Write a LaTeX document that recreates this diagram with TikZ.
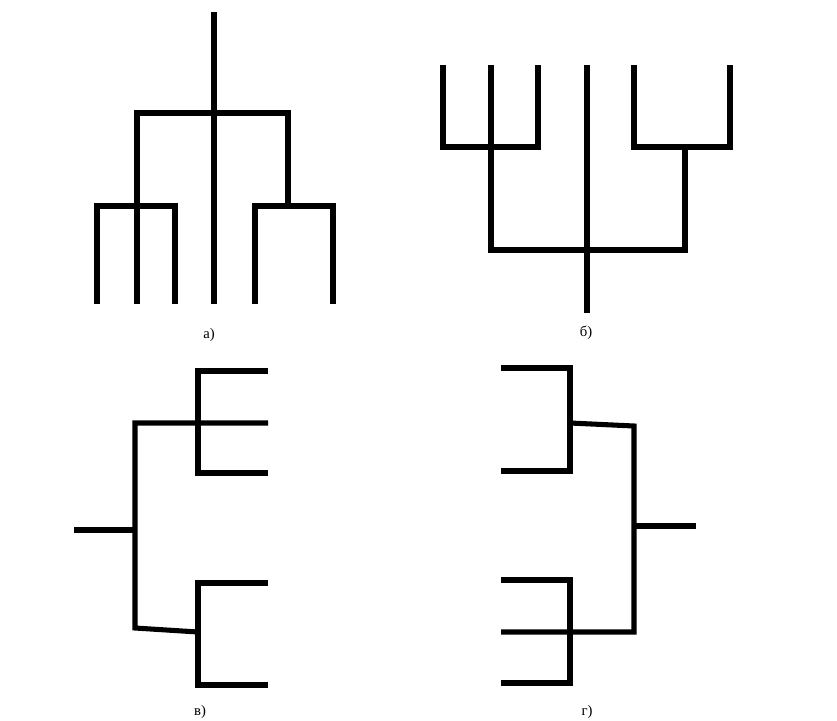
\documentclass[tikz,border=0pt]{standalone}
\usepackage{fontspec}
\setmainfont{Liberation Serif}
\begin{document}
\begin{tikzpicture}[
    x=0.75pt, y=-0.75pt,
    branch/.style={line width=3.8pt, black},
    caption/.style={font=\fontsize{11}{13}\selectfont, inner sep=0pt}
  ]
  \useasboundingbox (0,0) rectangle (837,720);
  % а) tree growing up
  \coordinate (atop) at (214,12);
  \coordinate (al1) at (97,304);
  \coordinate (al2) at (137,304);
  \coordinate (al3) at (175,304);
  \coordinate (al4) at (214,304);
  \coordinate (ar1) at (255,304);
  \coordinate (ar2) at (333,304);
  \coordinate (aL) at (137,206);
  \coordinate (aR) at (288,206);
  \coordinate (aJ) at (137,113);
  \coordinate (aK) at (288,113);
  \draw[branch] (atop) -- (al4);
  \draw[branch] (al2) -- (aJ) -- (aK) -- (aR);
  \draw[branch] (al1) |- (aL) -| (al3);
  \draw[branch] (ar1) |- (aR) -| (ar2);
  \node[caption] (capa) at (209,335) {а)};
  % б) tree growing down
  \coordinate (bl1) at (443,65);
  \coordinate (bl2) at (491,65);
  \coordinate (bl3) at (538,65);
  \coordinate (bc) at (587,65);
  \coordinate (br1) at (634,65);
  \coordinate (br2) at (730,65);
  \coordinate (bL) at (491,147);
  \coordinate (bR) at (685,147);
  \coordinate (bM) at (587,250);
  \coordinate (bbase) at (587,313);
  \draw[branch] (bl1) |- (bL) -| (bl3);
  \draw[branch] (br1) |- (bR) -| (br2);
  \draw[branch] (bl2) |- (bM) -| (bR);
  \draw[branch] (bc) -- (bbase);
  \node[caption] (capb) at (586,333) {б)};
  % в) tree growing right
  \coordinate (vroot) at (74,530);
  \coordinate (vJ) at (135,530);
  \coordinate (vlow) at (135,628);
  \coordinate (vT) at (198,423);
  \coordinate (vB) at (198,632);
  \coordinate (vt1) at (268,371);
  \coordinate (vt2) at (268,423);
  \coordinate (vt3) at (268,473);
  \coordinate (vb1) at (268,583);
  \coordinate (vb2) at (268,685);
  \draw[branch] (vroot) -- (vJ);
  \draw[branch] (vt2) -| (vlow) -- (vB);
  \draw[branch] (vt1) -| (vT) |- (vt3);
  \draw[branch] (vb1) -| (vB) |- (vb2);
  \node[caption] (capv) at (200,712) {в)};
  % г) tree growing left
  \coordinate (gt1) at (501,368);
  \coordinate (gt2) at (501,471);
  \coordinate (gT) at (570,423);
  \coordinate (gup) at (634,426);
  \coordinate (gJ) at (634,526);
  \coordinate (groot) at (696,526);
  \coordinate (gdown) at (634,632);
  \coordinate (gB) at (570,632);
  \coordinate (gb1) at (501,580);
  \coordinate (gb2) at (501,632);
  \coordinate (gb3) at (501,683);
  \draw[branch] (gt1) -| (gT) |- (gt2);
  \draw[branch] (gT) -- (gup) -- (gdown) -- (gb2);
  \draw[branch] (gb1) -| (gB) |- (gb3);
  \draw[branch] (gJ) -- (groot);
  \node[caption] (capg) at (587,712) {г)};
\end{tikzpicture}
\end{document}
